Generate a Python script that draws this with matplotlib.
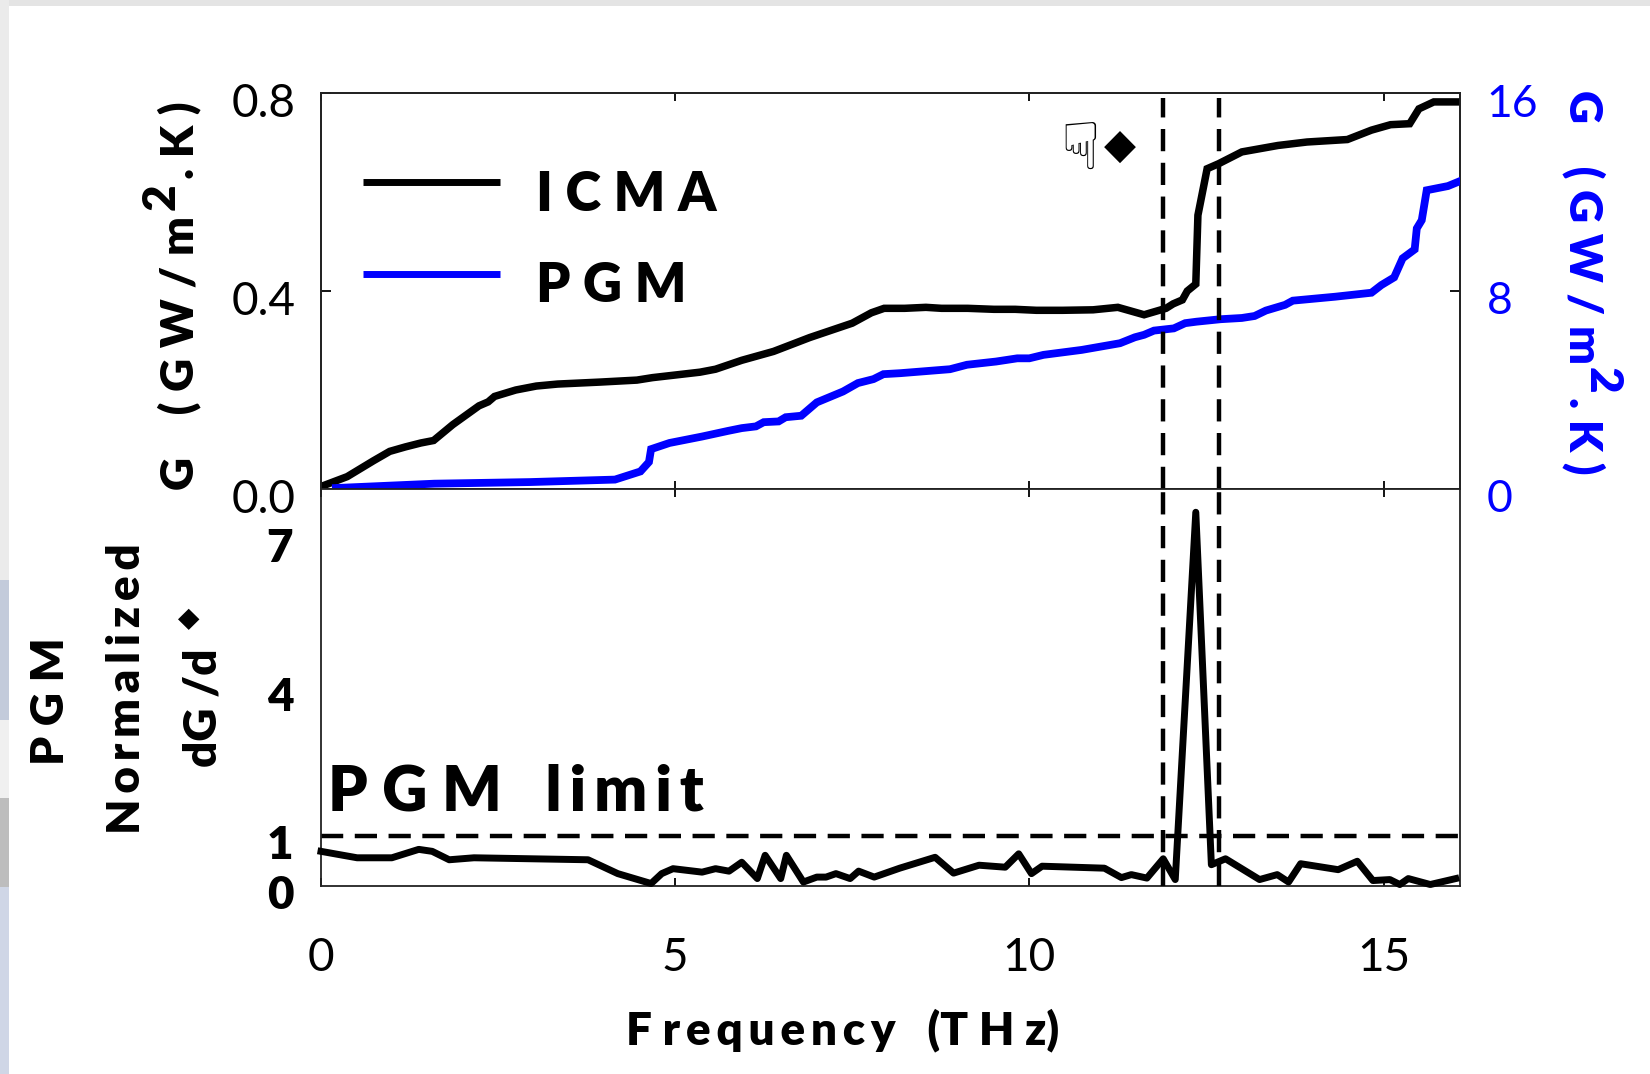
import matplotlib
matplotlib.use("Agg")
import matplotlib.pyplot as plt
from matplotlib.patches import Rectangle
from matplotlib.transforms import Affine2D

# values
icma_x = [0, 0.37, 0.74, 0.97, 1.19, 1.41, 1.59, 1.86, 2.23, 2.36, 2.45, 2.75, 3.04, 3.34, 3.94, 4.46, 4.68, 5.35,
          5.57, 5.94, 6.39, 6.9, 7.5, 7.77, 7.95, 8.24, 8.54, 8.76, 9.13, 9.5, 9.8, 10.1, 10.47, 10.9, 11.25, 11.62,
          11.93, 12.03, 12.16, 12.23, 12.35, 12.38, 12.51, 12.67, 13.0, 13.51, 13.92, 14.49, 14.83, 15.1, 15.37,
          15.5, 15.71, 16.08]
icma_y = [0.005, 0.025, 0.057, 0.076, 0.085, 0.093, 0.098, 0.13, 0.168, 0.176, 0.187, 0.2, 0.208, 0.212, 0.216,
          0.22, 0.225, 0.236, 0.242, 0.26, 0.278, 0.306, 0.335, 0.356, 0.365, 0.365, 0.367, 0.365, 0.365, 0.363,
          0.363, 0.361, 0.361, 0.362, 0.367, 0.352, 0.365, 0.374, 0.382, 0.40, 0.414, 0.553, 0.647, 0.657, 0.681,
          0.694, 0.701, 0.706, 0.725, 0.736, 0.738, 0.768, 0.782, 0.782]

pgm_x = [0.21, 1.6, 2.95, 4.15, 4.51, 4.63, 4.66, 4.92, 5.38, 5.75, 5.94, 6.14, 6.25, 6.46, 6.56, 6.78, 7.0, 7.37,
         7.58, 7.8, 7.94, 8.18, 8.88, 9.12, 9.53, 9.83, 10.0, 10.2, 10.74, 11.28, 11.49, 11.62, 11.76, 12.04, 12.2,
         12.36, 12.7, 13.0, 13.18, 13.34, 13.61, 13.72, 14.32, 14.83, 14.97, 15.15, 15.27, 15.44, 15.47, 15.54,
         15.61, 15.91, 16.08]
pgm_y = [0.04, 0.215, 0.28, 0.38, 0.71, 1.09, 1.61, 1.86, 2.12, 2.35, 2.46, 2.53, 2.7, 2.73, 2.9, 2.96, 3.5, 3.94,
         4.28, 4.44, 4.64, 4.68, 4.84, 5.02, 5.15, 5.28, 5.28, 5.42, 5.62, 5.89, 6.13, 6.23, 6.4, 6.49, 6.7, 6.76,
         6.86, 6.91, 6.99, 7.21, 7.44, 7.61, 7.77, 7.93, 8.24, 8.55, 9.32, 9.68, 10.53, 10.86, 12.07, 12.24, 12.44]

norm_x = [0, 0.51, 1.0, 1.38, 1.57, 1.81, 2.16, 3.77, 4.19, 4.66, 4.81, 4.97, 5.38, 5.57, 5.76, 5.94, 6.16, 6.27,
          6.49, 6.57, 6.81, 7.0, 7.13, 7.27, 7.47, 7.59, 7.81, 8.17, 8.67, 8.93, 9.29, 9.66, 9.85, 10.03, 10.18,
          11.06, 11.3, 11.44, 11.66, 11.89, 12.06, 12.35, 12.57, 12.77, 13.25, 13.5, 13.66, 13.83, 14.36, 14.63,
          14.85, 15.09, 15.23, 15.35, 15.66, 16.02]
norm_y = [0.70, 0.57, 0.57, 0.74, 0.70, 0.53, 0.57, 0.53, 0.25, 0.05, 0.25, 0.35, 0.28, 0.35, 0.30, 0.48, 0.15,
          0.62, 0.15, 0.62, 0.08, 0.18, 0.18, 0.25, 0.15, 0.30, 0.18, 0.36, 0.58, 0.26, 0.42, 0.38, 0.65, 0.25,
          0.40, 0.36, 0.17, 0.23, 0.16, 0.55, 0.13, 7.55, 0.43, 0.55, 0.13, 0.23, 0.08, 0.45, 0.33, 0.50, 0.11,
          0.13, 0.03, 0.15, 0.03, 0.15]

band_x = [11.88, 12.68]
x_ticks = [0, 5, 10, 15]
g_ticks = [0.0, 0.4, 0.8]
g_labels = ['0.0', '0.4', '0.8']
pgm_ticks = [0, 8, 16]
norm_ticks = [0, 1, 4, 7]

plt.rcParams['font.family'] = ['Lato', 'DejaVu Sans']
THIN = '\u2009'
BLUE = '#0000ff'
WEIGHT = 'heavy'

W, H = 1650, 1074
fig = plt.figure(figsize=(16.5, 10.74), dpi=100)


def axes_px(l, t, r, b):
    return fig.add_axes([l / W, 1 - b / H, (r - l) / W, (b - t) / H])


def label_px(x, y, s, **kw):
    # free text placed in picture pixels
    return fig.text(x / W, 1 - y / H, s, ha='center', va='center', **kw)


def shift_labels(labels, dx, dy):
    for lab in labels:
        lab.set_transform(lab.get_transform() + Affine2D().translate(dx, dy))


ax = axes_px(321, 93, 1460, 489)
ax2 = ax.twinx()
low = axes_px(321, 489, 1460, 886)

# screenshot edges around the slide
edges = [((0, 0.994), 1, 0.006, '#e4e4e4'), ((0, 0.46), 0.0055, 0.54, '#ebebeb'),
         ((0, 0.33), 0.0055, 0.13, '#c3cbdb'), ((0, 0.257), 0.0055, 0.073, '#f0f0f0'),
         ((0, 0.174), 0.0055, 0.083, '#bdbdbd'), ((0, 0), 0.0055, 0.174, '#cfd6e6')]
for xy, w, h, col in edges:
    fig.add_artist(Rectangle(xy, w, h, transform=fig.transFigure, color=col, lw=0))

ax.plot(icma_x, icma_y, color='black', lw=5.4, solid_joinstyle='miter', zorder=3)
ax2.plot(pgm_x, pgm_y, color=BLUE, lw=5.6, solid_joinstyle='miter', zorder=3)
low.plot(norm_x, norm_y, color='black', lw=5.0, solid_joinstyle='round', clip_on=False, zorder=3)

dash = (0, (5.0, 2.6))
for xv in band_x:
    ax2.plot([xv, xv], [0, 15.8], color='black', lw=3.2, linestyle=dash, zorder=4)
    low.plot([xv, xv], [0, 8], color='black', lw=3.2, linestyle=dash, zorder=4)
low.axhline(1, color='black', lw=3.2, linestyle=dash)

ax.set_xlim(0, 16.08)
ax.set_ylim(0, 0.8)
ax2.set_ylim(0, 16)
low.set_xlim(0, 16.08)
low.set_ylim(0, 8.02)

ax.set_xticks(x_ticks)
ax.tick_params(axis='x', direction='in', length=6, width=1.3, top=True, bottom=True, labelbottom=False)
ax.set_yticks(g_ticks)
ax.set_yticklabels(g_labels)
ax.tick_params(axis='y', direction='in', length=7, width=1.3, labelsize=33, pad=18)
ax2.set_yticks(pgm_ticks)
ax2.tick_params(axis='y', direction='in', length=7, width=1.3, labelsize=32, labelcolor=BLUE, pad=19)

low.set_xticks(x_ticks)
low.tick_params(axis='x', direction='in', length=6, width=1.3, top=True, labelsize=33, pad=37)
low.set_yticks(norm_ticks)
low.set_yticklabels([str(v) for v in norm_ticks], fontweight=WEIGHT)
low.tick_params(axis='y', length=0, labelsize=33, pad=20)

shift_labels(ax.get_yticklabels(), 0, -7)
shift_labels(ax2.get_yticklabels(), 0, -7)
shift_labels(low.get_yticklabels(), 0, -6)

for a in (ax, ax2, low):
    for s in a.spines.values():
        s.set_linewidth(1.3)
        s.set_color('#222222')

# hand drawn legend, same as the slide
ax.plot([0.59, 2.52], [0.62, 0.62], color='black', lw=5.0, solid_capstyle='butt')
ax2.plot([0.59, 2.52], [8.7, 8.7], color=BLUE, lw=5.0, solid_capstyle='butt')
ax.text(3.04, 0.594, 'I C M A', fontsize=39, fontweight=WEIGHT, va='center')
ax.text(3.04, 0.41, 'P G M', fontsize=39, fontweight=WEIGHT, va='center')
ax.text(10.72, 0.683, '\u261f', fontsize=47, va='center', ha='center', family=['DejaVu Sans'])
ax.text(11.28, 0.691, '\u25c6', fontsize=30, va='center', ha='center', family=['DejaVu Sans'])

low.text(0.1, 1.89, 'P G M   ' + THIN.join('limit'), fontsize=45, fontweight=WEIGHT, va='center')

# axis labels as free text, the superscript goes on its own
lab = dict(fontsize=33, fontweight=WEIGHT)
label_px(179, 353, 'G    ( G W / m', rotation=90, **lab)
label_px(161, 197, '2', rotation=90, **lab)
label_px(179, 140, '. K )', rotation=90, **lab)
label_px(1584, 227, 'G    ( G W / m', rotation=-90, color=BLUE, **lab)
label_px(1602, 380, '2', rotation=-90, color=BLUE, **lab)
label_px(1584, 436, '. K )', rotation=-90, color=BLUE, **lab)

label_px(50, 701, 'P G M', rotation=90, **lab)
label_px(126, 689, 'N' + THIN + THIN.join('ormalized'), rotation=90, **lab)
label_px(203, 708, 'dG /d', rotation=90, **lab)
label_px(188, 618, '\u25c6', rotation=90, fontsize=20, family=['DejaVu Sans'])
label_px(843, 1030, 'F ' + THIN.join('requency') + '   (T H z)', fontsize=33, fontweight=WEIGHT)

fig.savefig('out.png', dpi=100)
